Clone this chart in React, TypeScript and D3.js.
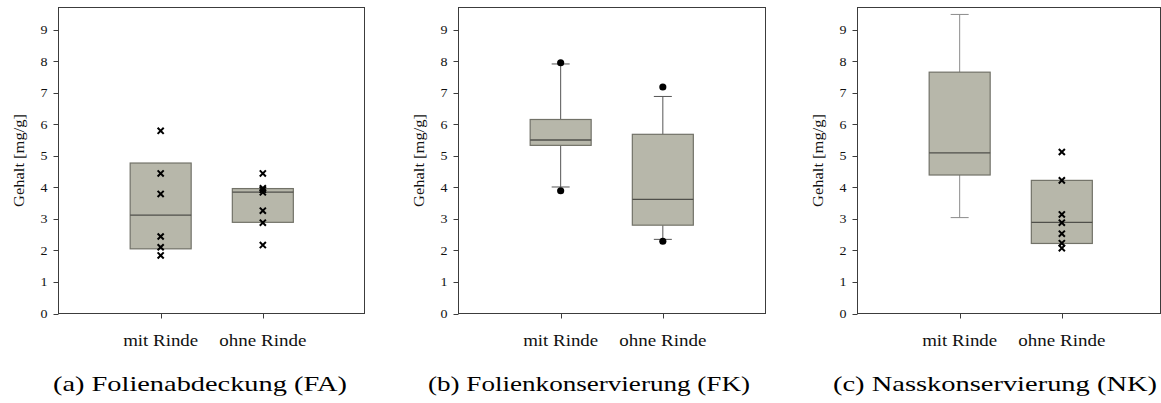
import React from "react";
import * as d3 from "d3";

// Sample groups on every panel's x axis
const categories = ["mit Rinde", "ohne Rinde"];
const categoryLabelWidths = [75, 87];

// Panel captions
const captions = [
  "(a) Folienabdeckung (FA)",
  "(b) Folienkonservierung (FK)",
  "(c) Nasskonservierung (NK)",
];

// Y axis ticks, mg/g
const yTicks = [0, 1, 2, 3, 4, 5, 6, 7, 8, 9];

// Folienabdeckung: [Q1, Median, Q3] per group, plus single measurements
const faQuartiles = [
  [2.05, 3.12, 4.77],
  [2.89, 3.85, 3.96],
];
const faPoints = [
  [5.79, 4.44, 3.79, 2.44, 2.1, 1.84],
  [4.44, 3.97, 3.92, 3.84, 3.26, 2.88, 2.17],
];

// Folienkonservierung: quartiles, whiskers [low, high], outliers
const fkQuartiles = [
  [5.33, 5.5, 6.15],
  [2.8, 3.62, 5.68],
];
const fkWhiskers = [
  [4.01, 7.91],
  [2.35, 6.88],
];
const fkOutliers = [
  [3.89, 7.95],
  [2.29, 7.18],
];

// Nasskonservierung: quartiles, whiskers, single measurements
const nkQuartiles = [
  [4.39, 5.09, 7.65],
  [2.22, 2.89, 4.22],
];
const nkWhiskers: (number[] | null)[] = [[3.04, 9.48], null];
const nkPoints = [[], [5.12, 4.22, 3.14, 2.88, 2.53, 2.23, 2.07]];

type Panel = {
  left: number;
  frameRight: number;
  quartiles: number[][];
  whiskers: (number[] | null)[] | null;
  crosses: number[][];
  dots: number[][];
  whiskerColor: string;
  captionX: number;
  captionWidth: number;
  caption: string;
};

const panels: Panel[] = [
  {
    left: 58.5,
    frameRight: 364.5,
    quartiles: faQuartiles,
    whiskers: null,
    crosses: faPoints,
    dots: [[], []],
    whiskerColor: "#555",
    captionX: 200,
    captionWidth: 294,
    caption: captions[0],
  },
  {
    left: 458.5,
    frameRight: 765.5,
    quartiles: fkQuartiles,
    whiskers: fkWhiskers,
    crosses: [[], []],
    dots: fkOutliers,
    whiskerColor: "#555",
    captionX: 589,
    captionWidth: 322,
    caption: captions[1],
  },
  {
    left: 857.5,
    frameRight: 1160.5,
    quartiles: nkQuartiles,
    whiskers: nkWhiskers,
    crosses: nkPoints,
    dots: [[], []],
    whiskerColor: "#8c8c8c",
    captionX: 995,
    captionWidth: 324,
    caption: captions[2],
  },
];

const TOP = 7.5;
const BOTTOM = 313.5;
const PLOT_W = 306.5;
const BOX_W = 61;
const CAP_W = 18;
const serif: React.CSSProperties = {
  fontFamily: '"Liberation Serif", Tinos, "Times New Roman", Times, "DejaVu Serif", serif',
};

const y = d3.scaleLinear().domain([0, 9.7]).range([BOTTOM, TOP]);
const crossPath = d3.symbol(d3.symbolX, 26)()!;
const dotPath = d3.symbol(d3.symbolCircle, 40)()!;

function BoxPanel({ p }: { p: Panel }) {
  const x = d3
    .scalePoint<string>()
    .domain(categories)
    .range([p.left, p.left + PLOT_W])
    .padding(1);

  return (
    <g>
      {/* frame */}
      <rect
        x={p.left}
        y={TOP}
        width={p.frameRight - p.left}
        height={BOTTOM - TOP}
        fill="none"
        stroke="#3c3c3c"
        strokeWidth={1}
      />
      {/* y ticks */}
      {yTicks.map((t) => (
        <g key={t}>
          <line
            x1={p.left - 5}
            x2={p.left}
            y1={Math.round(y(t)) + 0.5}
            y2={Math.round(y(t)) + 0.5}
            stroke="#3c3c3c"
          />
          <text
            x={p.left - 11}
            y={y(t)}
            dy="0.36em"
            textAnchor="end"
            fontSize={12.5}
            style={serif}
            textLength={7}
            lengthAdjust="spacingAndGlyphs"
            fill="#111"
          >
            {t}
          </text>
        </g>
      ))}
      <text
        transform={`translate(${p.left - 39},${(TOP + BOTTOM) / 2}) rotate(-90)`}
        textAnchor="middle"
        dy="0.33em"
        fontSize={14}
        style={serif}
        textLength={93}
        lengthAdjust="spacingAndGlyphs"
        fill="#111"
      >
        Gehalt [mg/g]
      </text>
      {/* x ticks and labels */}
      {categories.map((c, i) => (
        <g key={c}>
          <line
            x1={Math.round(x(c)!) + 0.5}
            x2={Math.round(x(c)!) + 0.5}
            y1={BOTTOM}
            y2={BOTTOM + 5}
            stroke="#3c3c3c"
          />
          <text
            x={x(c)!}
            y={346}
            textAnchor="middle"
            fontSize={17.5}
            style={serif}
            textLength={categoryLabelWidths[i]}
            lengthAdjust="spacingAndGlyphs"
            fill="#111"
          >
            {c}
          </text>
        </g>
      ))}
      {/* boxes */}
      {categories.map((c, i) => {
        const cx = x(c)!;
        const [q1, med, q3] = p.quartiles[i];
        const w = p.whiskers ? p.whiskers[i] : null;
        return (
          <g key={"b" + c}>
            {w && (
              <g stroke={p.whiskerColor} strokeWidth={1}>
                <line x1={cx} x2={cx} y1={y(w[1])} y2={y(q3)} />
                <line x1={cx} x2={cx} y1={y(q1)} y2={y(w[0])} />
                <line x1={cx - CAP_W / 2} x2={cx + CAP_W / 2} y1={y(w[1])} y2={y(w[1])} />
                <line x1={cx - CAP_W / 2} x2={cx + CAP_W / 2} y1={y(w[0])} y2={y(w[0])} />
              </g>
            )}
            <rect
              x={cx - BOX_W / 2}
              y={y(q3)}
              width={BOX_W}
              height={y(q1) - y(q3)}
              fill="#b7b7aa"
              stroke="#727268"
              strokeWidth={1.2}
            />
            <line
              x1={cx - BOX_W / 2}
              x2={cx + BOX_W / 2}
              y1={y(med)}
              y2={y(med)}
              stroke="#4f4f4a"
              strokeWidth={1.3}
            />
            {p.crosses[i].map((v, k) => (
              <path
                key={"x" + k}
                d={crossPath}
                transform={`translate(${cx},${y(v)})`}
                fill="none"
                stroke="#000"
                strokeWidth={2}
              />
            ))}
            {p.dots[i].map((v, k) => (
              <path key={"d" + k} d={dotPath} transform={`translate(${cx},${y(v)})`} fill="#000" />
            ))}
          </g>
        );
      })}
      {/* caption */}
      <text
        x={p.captionX}
        y={391}
        textAnchor="middle"
        fontSize={22}
        style={serif}
        textLength={p.captionWidth}
        lengthAdjust="spacingAndGlyphs"
        fill="#000"
      >
        {p.caption}
      </text>
    </g>
  );
}

export default function App() {
  return (
    <svg
      width={1161}
      height={403}
      viewBox="0 0 1161 403"
      style={{ position: "absolute", left: 0, top: 0, background: "#fff" }}
    >
      <rect width={1161} height={403} fill="#fff" />
      {panels.map((p, i) => (
        <BoxPanel key={i} p={p} />
      ))}
    </svg>
  );
}
